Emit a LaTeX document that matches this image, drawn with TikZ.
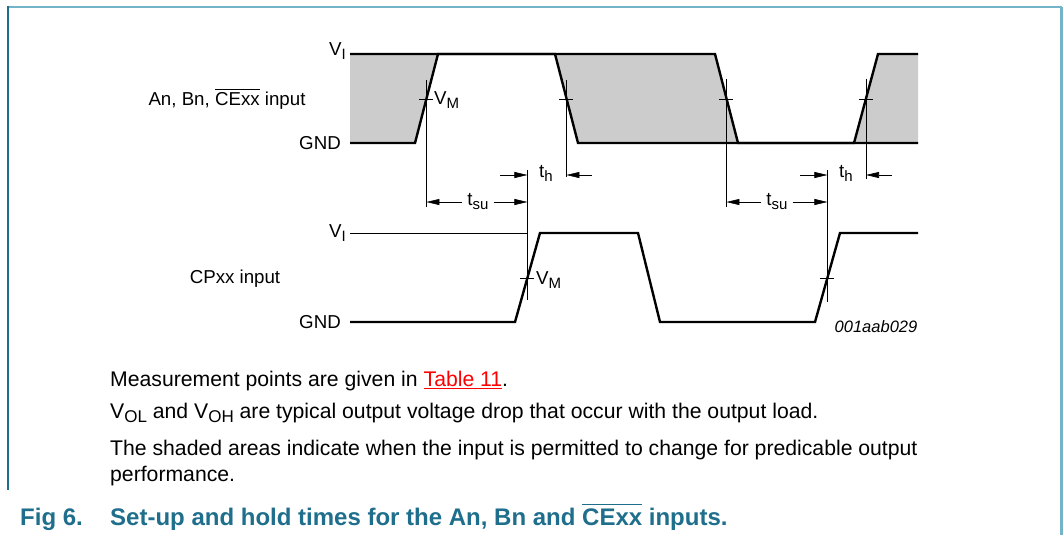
\documentclass[tikz,border=0pt]{standalone}
\usepackage{fontspec}
\setmainfont{Liberation Sans}
\usetikzlibrary{arrows.meta,positioning,calc}
\definecolor{figteal}{HTML}{1E6E8C}
\definecolor{frameblue}{HTML}{74B4C8}
\definecolor{shadegray}{HTML}{CCCCCC}
\definecolor{linkred}{HTML}{FF0000}
\newcommand{\lowidx}[2][15]{\raisebox{-0.4ex}{\fontsize{#1}{#1}\selectfont #2}}
\newcommand{\barname}[1]{$\overline{\mbox{#1\rule{0pt}{0.8em}}}$}

\begin{document}
\begin{tikzpicture}[x=1pt, y=-1pt, >={Triangle[length=13pt,width=6pt]},
  font=\fontsize{18.7}{21}\selectfont]
	\tikzstyle{wave}=[line width=2.4pt, line join=miter]
	\tikzstyle{guide}=[line width=0.6pt]
	\tikzstyle{lbl}=[inner sep=1pt]
	\tikzstyle{dimlbl}=[inner xsep=5pt, inner ysep=1pt]
	\tikzstyle{body}=[anchor=west, inner sep=0pt, font=\fontsize{21.2}{24}\selectfont]
	\tikzstyle{captxt}=[inner sep=0pt, anchor=base west, font=\fontsize{24}{26}\selectfont\bfseries, text=figteal]
	\useasboundingbox (0,0) rectangle (1063,535);
	% frame
	\draw[frameblue, line width=2pt] (7,7) -- (1062,7);
	\draw[frameblue, line width=2.5pt] (1061.5,7) -- (1061.5,535);
	\draw[figteal, line width=1.5pt] (8,6) -- (8,490);

	% shaded areas of An, Bn, CExx
	\fill[shadegray] (350,54) -- (438,54) -- (415,143) -- (350,143) -- cycle;
	\fill[shadegray] (555,54) -- (715,54) -- (738,143) -- (578,143) -- cycle;
	\fill[shadegray] (878,54) -- (918,54) -- (918,143) -- (854,143) -- cycle;

	% crossing points at V_M
	\coordinate (mA) at (426.4,99);
	\coordinate (mB) at (566.4,99);
	\coordinate (mC) at (726.4,99);
	\coordinate (mD) at (866,99);
	\coordinate (cA) at (527.4,278);
	\coordinate (cB) at (827.4,278);

	% guide lines
	\draw[guide] (mA |- 0,80) -- (mA |- 0,207);
	\draw[guide] (mB |- 0,80) -- (mB |- 0,177);
	\draw[guide] (mC |- 0,79) -- (mC |- 0,207);
	\draw[guide] (mD |- 0,79) -- (mD |- 0,179);
	\draw[guide] (cA |- 0,170) -- (cA |- 0,300);
	\draw[guide] (cB |- 0,170) -- (cB |- 0,302);
	\draw[guide] (350,233) -- (cA |- 0,233);
	\foreach \m in {mA,mB,mC,mD,cA,cB}
		\draw[guide] ($(\m)+(-7,0)$) -- ($(\m)+(7,0)$);

	% waveforms
	\draw[wave] (350,54) -- (715,54) -- (738,143) -- (854,143) -- (878,54) -- (918,54);
	\draw[wave] (350,143) -- (415,143) -- (438,54) -- (555,54) -- (578,143) -- (918,143);
	\draw[wave] (350,322) -- (515,322) -- (540,233) -- (638,233) -- (660,322)
		-- (815,322) -- (840,233) -- (918,233);

	% level labels
	\node[lbl, anchor=east] (viA)  at (347,51)  {V\lowidx{I}};
	\node[lbl, anchor=east] (gndA) at (342,143) {GND};
	\node[lbl, anchor=east] (viB)  at (347,233) {V\lowidx{I}};
	\node[lbl, anchor=east] (gndB) at (342,322) {GND};
	\node[lbl, anchor=base] (inA) at (227,106) {An, Bn, \barname{CExx} input};
	\node[lbl] (inB) at (235,279) {CPxx input};
	\node[lbl, anchor=west] (vmA) at (433,100) {V\lowidx{M}};
	\node[lbl, anchor=west] (vmB) at (535,280) {V\lowidx{M}};
	\node[lbl, font=\fontsize{16.5}{18}\selectfont\itshape] (code) at (876,327) {001aab029};

	% set-up and hold times
	\node[dimlbl] (tsuA) at (478,202) {t\lowidx{su}};
	\node[dimlbl] (tsuB) at (777,202) {t\lowidx{su}};
	\node[lbl] (thA) at (546,173) {t\lowidx{h}};
	\node[lbl] (thB) at (846,173) {t\lowidx{h}};
	\draw[->, guide] (tsuA.west) -- (mA |- tsuA);
	\draw[->, guide] (tsuA.east) -- (cA |- tsuA);
	\draw[->, guide] (tsuB.west) -- (mC |- tsuB);
	\draw[->, guide] (tsuB.east) -- (cB |- tsuB);
	\draw[->, guide] (500,175) -- (cA |- 0,175);
	\draw[->, guide] (592,175) -- (mB |- 0,175);
	\draw[->, guide] (800,175) -- (cB |- 0,175);
	\draw[->, guide] (892,175) -- (mD |- 0,175);

	% notes
	\node[body] (noteA) at (110,381) {Measurement points are given in
		\textcolor{linkred}{\underline{Table 11}}.};
	\node[body] (noteB) at (110,413) {V\lowidx[17]{OL} and V\lowidx[17]{OH} are typical output voltage drop that occur with the output load.};
	\node[body] (noteC) at (110,450) {The shaded areas indicate when the input is permitted to change for predicable output};
	\node[body] (noteD) at (110,476) {performance.};

	% caption
	\node[captxt] (fig) at (20,525) {Fig 6.};
	\node[captxt] (cap) at (110,525)
		{Set-up and hold times for the An, Bn and \barname{CExx} inputs.};
\end{tikzpicture}
\end{document}
